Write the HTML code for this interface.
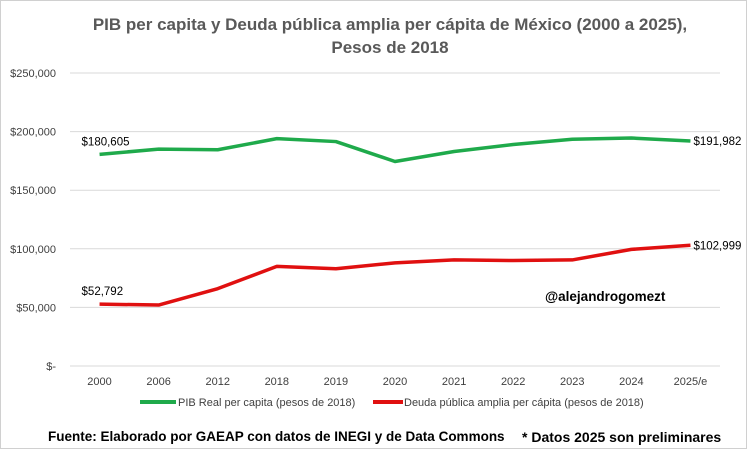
<!DOCTYPE html>
<html><head><meta charset="utf-8"><style>
body{margin:0;background:#fff;}
svg{display:block;font-family:"Liberation Sans",sans-serif;}
</style></head><body>
<svg id="chart" width="747" height="449" viewBox="0 0 747 449">
<rect x="0.5" y="0.5" width="746" height="448" fill="#fff" stroke="#d0d0d0"/>
<text x="390" y="30" text-anchor="middle" font-size="17" font-weight="bold" fill="#595959">PIB per capita y Deuda pública amplia per cápita de México (2000 a 2025),</text>
<text x="390" y="53" text-anchor="middle" font-size="17" font-weight="bold" fill="#595959">Pesos de 2018</text>
<g id="grid"></g><g id="yticks"></g><g id="xticks"></g><g id="series"></g>
<line x1="140" y1="402" x2="176" y2="402" stroke="#1faa4b" stroke-width="4"/>
<text x="178" y="406" font-size="11" fill="#404040">PIB Real per capita (pesos de 2018)</text>
<line x1="373" y1="402" x2="403" y2="402" stroke="#e01010" stroke-width="4"/>
<text x="404" y="406" font-size="11" fill="#404040">Deuda pública amplia per cápita (pesos de 2018)</text>
<text x="48" y="441" font-size="13.5" font-weight="bold" fill="#000">Fuente: Elaborado por GAEAP con datos de INEGI y de Data Commons</text>
<text x="522" y="442" font-size="14" font-weight="bold" fill="#000">* Datos 2025 son preliminares</text>
<text x="545" y="301" font-size="13.5" font-weight="bold" fill="#000">@alejandrogomezt</text>
</svg>
<script>
const categories=["2000","2006","2012","2018","2019","2020","2021","2022","2023","2024","2025/e"];
const pibValues=[180605,185000,184500,194000,191500,174500,183000,189000,193500,194500,191982];
const deudaValues=[52792,52000,66000,85000,83000,88000,90500,90000,90500,99500,102999];
const yTickValues=[0,50000,100000,150000,200000,250000];
const yTickLabels=["$-","$50,000","$100,000","$150,000","$200,000","$250,000"];
const NS="http://www.w3.org/2000/svg";
const x0=70,x1=720,yBase=366,yTop=73,yMax=250000;
const xs=i=>x0+(x1-x0)/categories.length*(i+0.5);
const ys=v=>yBase-(yBase-yTop)*v/yMax;
function mk(tag,attrs,parent){const e=document.createElementNS(NS,tag);for(const k in attrs)e.setAttribute(k,attrs[k]);document.getElementById(parent).appendChild(e);return e;}
yTickValues.forEach((v,i)=>{
 const g=mk("line",{x1:x0,x2:x1,y1:ys(v),y2:ys(v),stroke:"#d9d9d9","stroke-width":1},"grid");
 
 
 const t=mk("text",{x:56,y:ys(v)+4,"text-anchor":"end","font-size":11,fill:"#404040"},"yticks");
 t.textContent=yTickLabels[i];
 
 
});
categories.forEach((c,i)=>{
 const t=mk("text",{x:xs(i),y:385,"text-anchor":"middle","font-size":11,fill:"#404040"},"xticks");
 t.textContent=c;
 
 
});
function line(vals,color,name){
 const p=mk("polyline",{points:vals.map((v,i)=>xs(i)+","+ys(v)).join(" "),fill:"none",stroke:color,"stroke-width":3.5,"stroke-linejoin":"round"},"series");
 
 
}
line(pibValues,"#1faa4b","pib-line");
line(deudaValues,"#e01010","deuda-line");
function lab(txt,x,y,anchor){
 const t=mk("text",{x:x,y:y,"text-anchor":anchor,"font-size":11.5,fill:"#000"},"series");
 t.textContent=txt;
 
 
}
const f=v=>"$"+v.toLocaleString("en-US");
const n=categories.length-1;
lab(f(pibValues[0]),xs(0)-18,ys(pibValues[0])-9,"start");
lab(f(pibValues[n]),xs(n)+3,ys(pibValues[n])+4,"start");
lab(f(deudaValues[0]),xs(0)-18,ys(deudaValues[0])-9,"start");
lab(f(deudaValues[n]),xs(n)+3,ys(deudaValues[n])+4,"start");
</script>
</body></html>
